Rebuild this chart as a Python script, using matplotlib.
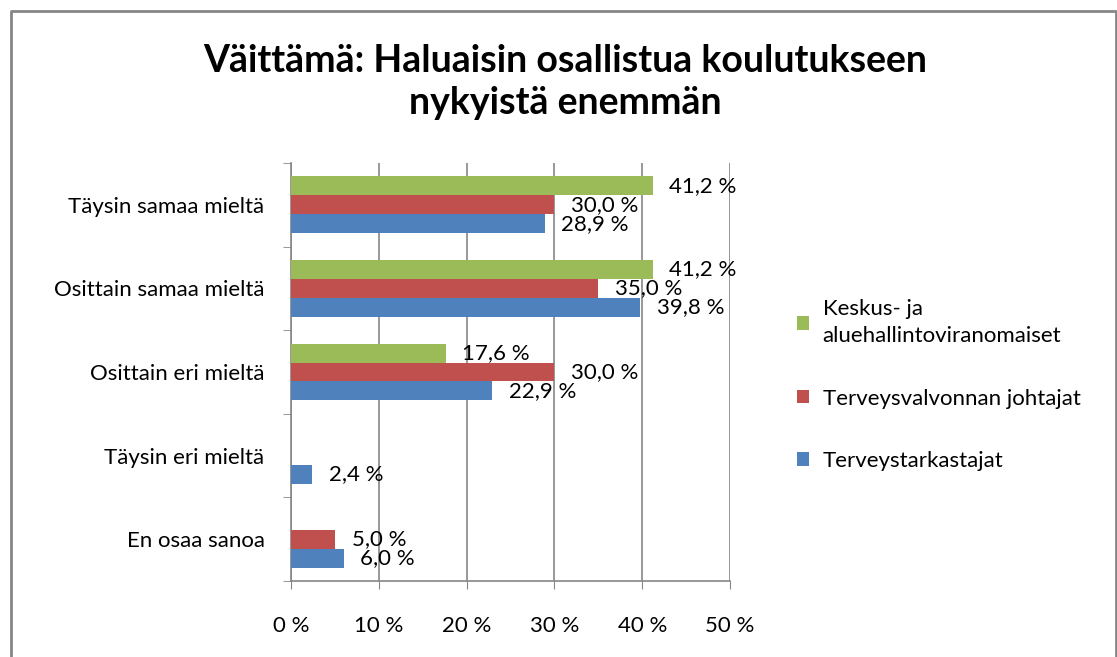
import numpy as np
import matplotlib
matplotlib.use("Agg")
import matplotlib.pyplot as plt
from matplotlib.lines import Line2D
import matplotlib.patches as mpatches

plt.rcParams["font.family"] = ["Lato", "DejaVu Sans"]

categories = ["Täysin samaa mieltä", "Osittain samaa mieltä", "Osittain eri mieltä",
              "Täysin eri mieltä", "En osaa sanoa"]
series_names = ["Terveystarkastajat", "Terveysvalvonnan johtajat",
                "Keskus- ja\naluehallintoviranomaiset"]
tarkastajat = [28.9, 39.8, 22.9, 2.4, 6.0]
johtajat = [30.0, 35.0, 30.0, 0.0, 5.0]
keskus = [41.2, 41.2, 17.6, 0.0, 0.0]
colors = ["#4F81BD", "#C0504D", "#9BBB59"]
xticks = [0, 10, 20, 30, 40, 50]

W, H = 1117, 657
fig = plt.figure(figsize=(W / 100, H / 100), dpi=100)
ax = fig.add_axes([291 / W, 1 - 581 / H, (730 - 291) / W, (581 - 163) / H])

n = len(categories)
centers = np.arange(n)[::-1].astype(float)  # first category on top
h = 0.226
offsets = [-h, 0.0, h]  # blue bottom, red middle, green top
for vals, off, col in zip([tarkastajat, johtajat, keskus], offsets, colors):
    y = centers + off
    ax.barh(y, vals, height=h, color=col, zorder=3)
    for yi, v in zip(y, vals):
        if v > 0:
            ax.text(v + 1.9, yi, f"{v:.1f} %".replace(".", ","), va="center", ha="left",
                    fontsize=16, color="black", zorder=4)

ax.set_xlim(0, 50)
ax.set_ylim(-0.5, n - 0.5)
ax.set_xticks(xticks)
ax.set_xticklabels([f"{t} %" for t in xticks], fontsize=16)
ax.set_yticks(centers)
ax.set_yticklabels(categories, fontsize=16)
ax.set_yticks(np.arange(n + 1) - 0.5, minor=True)
ax.tick_params(axis="y", which="major", length=0, pad=19)
ax.tick_params(axis="y", which="minor", length=6, color="#868686", direction="out")
ax.tick_params(axis="x", which="major", length=6, color="#868686", direction="out", pad=19)
ax.grid(axis="x", color="#868686", linewidth=1.2, zorder=0)
for s in ["top", "right"]:
    ax.spines[s].set_visible(False)
for s in ["left", "bottom"]:
    ax.spines[s].set_color("#868686")
    ax.spines[s].set_linewidth(1.2)

handles = [mpatches.Patch(facecolor=c) for c in colors[::-1]]
leg = ax.legend(handles, series_names[::-1], loc="center left",
                bbox_to_anchor=(777 / W, 1 - 385 / H), bbox_transform=fig.transFigure,
                frameon=False, fontsize=16, handlelength=0.55, handleheight=0.55,
                handletextpad=0.6, labelspacing=1.9)
for t in leg.get_texts():
    t.set_linespacing(1.45)

fig.text(565 / W, 1 - 82 / H, "Väittämä: Haluaisin osallistua koulutukseen\nnykyistä enemmän",
         ha="center", va="center", fontsize=27, fontweight="bold", linespacing=1.3)

# outer chart border
bx = [11 / W, 11 / W, 1116 / W, 1116 / W]
by = [0, 1 - 11 / H, 1 - 11 / H, 0]
fig.add_artist(Line2D(bx, by, color="#868686", linewidth=2, transform=fig.transFigure))

fig.savefig("out.png", dpi=100)
